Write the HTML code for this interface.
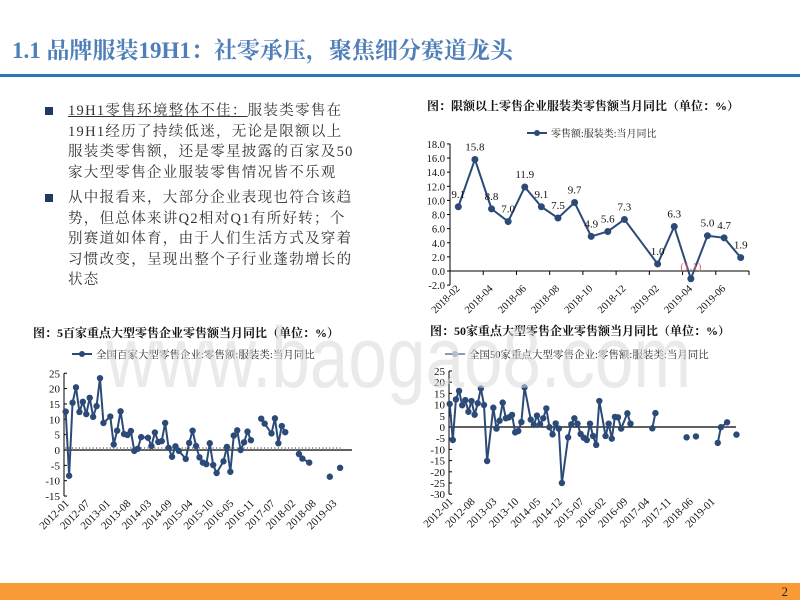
<!DOCTYPE html>
<html><head><meta charset="utf-8">
<style>
body{margin:0;background:#fff;}
#slide{position:relative;width:800px;height:600px;overflow:hidden;background:#fff;font-family:"Liberation Serif","Noto Serif CJK SC",serif;}
.title{position:absolute;left:12px;top:32px;font-size:23px;font-weight:bold;color:#4f7fb8;white-space:nowrap;}
.rule{position:absolute;left:0;top:74px;width:800px;height:3px;background:#2e75b6;}
.bul{position:absolute;left:45px;width:8px;height:8px;background:#1f3864;}
.txt{position:absolute;left:68px;font-size:14.5px;line-height:20.5px;color:#333;letter-spacing:1.3px;white-space:nowrap;}
.footer{position:absolute;left:0;top:583px;width:800px;height:17px;background:#f99a38;}
.pg{position:absolute;right:12px;top:584px;font-size:13px;color:#222;}
svg text{font-family:"Liberation Serif","Noto Serif CJK SC",serif;}
</style></head><body>
<div id="slide">
<div class="title">1.1 品牌服装19H1：社零承压，聚焦细分赛道龙头</div>
<div class="rule"></div>
<div class="bul" style="top:107px"></div>
<div class="txt" style="top:101px"><span style="text-decoration:underline">19H1零售环境整体不佳：</span>服装类零售在<br>19H1经历了持续低迷，无论是限额以上<br>服装类零售额，还是零星披露的百家及50<br>家大型零售企业服装零售情况皆不乐观</div>
<div class="bul" style="top:194px"></div>
<div class="txt" style="top:188px">从中报看来，大部分企业表现也符合该趋<br>势，但总体来讲Q2相对Q1有所好转；个<br>别赛道如体育，由于人们生活方式及穿着<br>习惯改变，呈现出整个子行业蓬勃增长的<br>状态</div>
<svg id="charts" width="800" height="600" style="position:absolute;left:0;top:0"></svg>
<div class="footer"></div>
<div class="pg">2</div>
</div>
<script>
// Chart 1: 限额以上零售企业服装类零售额当月同比
const c1Categories = ["2018-02","2018-03","2018-04","2018-05","2018-06","2018-07","2018-08","2018-09","2018-10","2018-11","2018-12","2019-01","2019-02","2019-03","2019-04","2019-05","2019-06","2019-07"];
const c1Values = [9.1,15.8,8.8,7.0,11.9,9.1,7.5,9.7,4.9,5.6,7.3,null,1.0,6.3,-1.1,5.0,4.7,1.9];
const c1YTicks = [18,16,14,12,10,8,6,4,2,0,-2];
const c1XLabels = ["2018-02","2018-04","2018-06","2018-08","2018-10","2018-12","2019-02","2019-04","2019-06"];

// Chart 2: 百家重点大型零售企业
const c2XLabels = ["2012-01","2012-07","2013-01","2013-08","2014-03","2014-09","2015-04","2015-10","2016-05","2016-11","2017-07","2018-02","2018-08","2019-03"];
const c2YTicks = [25,20,15,10,5,0,-5,-10,-15];
const c2Values = [12.5,-8.4,15.4,20.4,12.4,15.7,11.7,17,10.8,14.3,23.4,8.8,null,10.9,1.8,6.3,12.6,5.2,4.9,6.2,-0.3,0.4,4.2,null,4.0,1.3,5.7,2.6,2.9,8.8,0.7,-2.2,1.2,-0.3,null,-2.9,2.3,6.3,1.3,-2.4,-4.1,-4.6,2.2,-4.9,-7.5,null,-3.7,1.0,-7.1,4.7,6.4,0,2.5,6.0,3.2,null,null,10.2,8.6,null,5.4,10.3,2.2,7.8,5.8,null,null,null,-1.3,-2.8,null,-4.1,null,null,null,null,null,-8.7,null,null,-5.8];

// Chart 3: 50家重点大型零售企业
const c3XLabels = ["2012-01","2012-08","2013-03","2013-10","2014-05","2014-12","2015-07","2016-02","2016-09","2017-04","2017-11","2018-06","2019-01"];
const c3YTicks = [25,20,15,10,5,0,-5,-10,-15,-20,-25,-30];
const c3Values = [10.3,-5.8,12.3,16.1,9.7,12.0,6.8,11.6,5.5,10.6,17.2,9.8,-15.2,null,8.6,-0.7,2.8,10.9,3.9,4.3,5.4,-2.4,-1.8,2.2,17.7,null,3.3,1.0,5.1,1.2,3.9,8.3,-0.1,-3.3,1.6,-0.7,-25,null,-4.6,1.2,3.9,1.5,-3.1,-4.8,-5.8,1.5,-4.0,-8.0,11.6,null,-4.0,1.5,-5.2,4.5,4.3,-0.7,null,6.1,1.5,null,null,null,null,null,null,-0.6,6.2,null,null,null,null,null,null,null,null,null,-4.6,null,null,-4.2,null,null,null,null,null,null,-7.1,-0.1,null,2.1,null,null,-3.4];

const NS="http://www.w3.org/2000/svg";
const svg=document.getElementById('charts');
function mk(tag,attrs,parent,txt){const e=document.createElementNS(NS,tag);for(const k in attrs)e.setAttribute(k,attrs[k]);if(txt!==undefined)e.textContent=txt;(parent||svg).appendChild(e);return e;}
const LINE="#2c4a78";

function drawSeries(g,vals,x,y,maxGap,r){
  let prev=-1;
  for(let i=0;i<vals.length;i++){
    if(vals[i]===null)continue;
    if(prev>=0 && i-prev<=maxGap){
      const s=mk('line',{x1:x(prev),y1:y(vals[prev]),x2:x(i),y2:y(vals[i]),stroke:LINE,'stroke-width':2},g);
      
      
    }
    prev=i;
  }
  for(let i=0;i<vals.length;i++){
    if(vals[i]===null)continue;
    const c=mk('circle',{cx:x(i),cy:y(vals[i]),r:r,fill:LINE},g);
    
    
  }
}

// ---------- Chart 1 ----------
(function(){
  const g=mk('g',{});
  
  
  const t=mk('text',{x:427,y:110,'font-size':12,'font-weight':'bold',fill:'#111'},g,'图：限额以上零售企业服装类零售额当月同比（单位：%）');
  
  const n=c1Categories.length, x0=450, x1=749;
  const x=i=>x0+(i+0.5)*(x1-x0)/n;
  const y=v=>271-v*7.06;
  const lg=mk('g',{},g);
  mk('line',{x1:527,y1:133,x2:547,y2:133,stroke:LINE,'stroke-width':2},lg);
  mk('circle',{cx:537,cy:133,r:3,fill:LINE},lg);
  mk('text',{x:551,y:137,'font-size':10,fill:'#222'},lg,'零售额:服装类:当月同比');
  const ax=mk('g',{},g);
  mk('line',{x1:x0,y1:y(18),x2:x0,y2:y(-2),stroke:'#000','stroke-width':1},ax);
  mk('line',{x1:x0,y1:y(0),x2:x1,y2:y(0),stroke:'#000','stroke-width':1},ax);
  c1YTicks.forEach(v=>{
    mk('line',{x1:x0-3,y1:y(v),x2:x0,y2:y(v),stroke:'#000'},ax);
    const tl=mk('text',{x:x0-5,y:y(v)+4,'font-size':10.5,'text-anchor':'end',fill:'#111'},ax,v.toFixed(1));
    
  });
  for(let i=0;i<=n;i+=2){
    const xx=x0+i*(x1-x0)/n;
    mk('line',{x1:xx,y1:y(0),x2:xx,y2:y(0)+4,stroke:'#000'},ax);
  }
  c1XLabels.forEach(lab=>{
    const i=c1Categories.indexOf(lab);
    const xx=x(i)+2, yy=y(-2)+4;
    const tl=mk('text',{x:xx,y:yy,'font-size':10.5,'text-anchor':'end',fill:'#111',transform:`rotate(-45 ${xx} ${yy})`},ax,lab);
    
  });
  drawSeries(g,c1Values,x,y,2,3.5);
  c1Values.forEach((v,i)=>{
    if(v===null)return;
    const neg=v<0;
    const tl=mk('text',{x:x(i),y:y(v)-9,'font-size':11,'text-anchor':'middle',fill:neg?'#e06666':'#111'},g,neg?`(${Math.abs(v).toFixed(1)})`:v.toFixed(1));
    
  });
})();

function smallChart(opts){
  const g=mk('g',{});
  
  
  const t=mk('text',{x:opts.titleX,y:opts.titleY,'font-size':12,'font-weight':'bold',fill:'#111'},g,opts.title);
  
  const lg=mk('g',{},g);
  mk('line',{x1:opts.legX,y1:opts.legY,x2:opts.legX+20,y2:opts.legY,stroke:opts.legColor,'stroke-width':2},lg);
  mk('circle',{cx:opts.legX+10,cy:opts.legY,r:3,fill:opts.legColor},lg);
  mk('text',{x:opts.legX+24,y:opts.legY+4,'font-size':10.5,fill:'#222'},lg,opts.legend);
  const n=opts.values.length;
  const x=i=>opts.px0+i*opts.step;
  const y=v=>opts.zeroY-v*opts.k;
  const ax=mk('g',{},g);
  const yt=opts.yTicks;
  mk('line',{x1:opts.ax,y1:y(yt[0]),x2:opts.ax,y2:y(yt[yt.length-1]),stroke:'#000'},ax);
  mk('line',{x1:opts.ax,y1:y(0),x2:opts.axEnd,y2:y(0),stroke:'#000','stroke-width':1.2},ax);
  yt.forEach(v=>{
    mk('line',{x1:opts.ax,y1:y(v),x2:opts.ax+3,y2:y(v),stroke:'#000'},ax);
    const tl=mk('text',{x:opts.ax-4,y:y(v)+4,'font-size':11,'text-anchor':'end',fill:'#111'},ax,String(v));
    
  });
  if(opts.minor){for(let i=0;i<n;i++){mk('line',{x1:x(i),y1:y(0)-3,x2:x(i),y2:y(0),stroke:'#888','stroke-width':1},ax);}}
  opts.xLabels.forEach((lab,j)=>{
    const xx=x(j*opts.labelEvery)+4, yy=y(yt[yt.length-1])+8;
    const tl=mk('text',{x:xx,y:yy,'font-size':11,'text-anchor':'end',fill:'#111',transform:`rotate(-45 ${xx} ${yy})`},ax,lab);
    
  });
  drawSeries(g,opts.values,x,y,opts.maxGap,3.2);
}
smallChart({name:'baijia-retail-chart',title:'图：5百家重点大型零售企业零售额当月同比（单位：%）',titleX:33,titleY:337,
  legend:'全国百家大型零售企业:零售额:服装类:当月同比',legX:72,legY:354,legColor:LINE,
  values:c2Values,yTicks:c2YTicks,xLabels:c2XLabels,labelEvery:6,px0:65.7,step:3.43,zeroY:450,k:3.07,ax:64,axEnd:352,minor:true,maxGap:2});
smallChart({name:'wushijia-retail-chart',title:'图：50家重点大型零售企业零售额当月同比（单位：%）',titleX:430,titleY:335,
  legend:'全国50家重点大型零售企业:零售额:服装类:当月同比',legX:445,legY:354,legColor:'#8a9bb5',
  values:c3Values,yTicks:c3YTicks,xLabels:c3XLabels,labelEvery:7,px0:449.7,step:3.117,zeroY:427,k:2.24,ax:449,axEnd:736,minor:false,maxGap:2});

// watermark
const wm=mk('text',{x:106,y:387,'font-size':86,style:'font-family:"Liberation Sans",sans-serif',fill:'#d8d8d8','fill-opacity':0.55,textLength:585,lengthAdjust:'spacingAndGlyphs'},svg,'www.baogao8.com');


</script>
</body></html>
